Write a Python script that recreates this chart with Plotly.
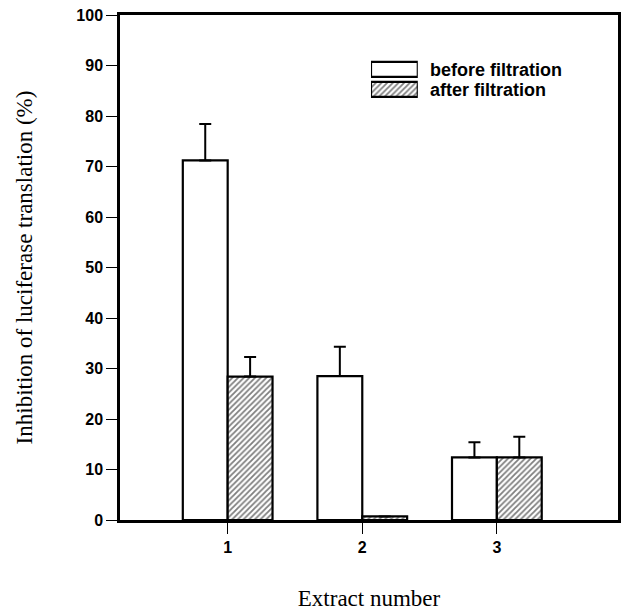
import plotly.graph_objects as go

extracts = [1, 2, 3]
tick_labels = ["1", "2", "3"]
before_vals = [71.2, 28.5, 12.4]
before_err = [7.2, 5.8, 3.0]
after_vals = [28.4, 0.7, 12.4]
after_err = [3.9, 0.0, 4.1]
legend_labels = ["before filtration", "after filtration"]

hatch = dict(shape="/", fgcolor="black", bgcolor="white", size=4, solidity=0.45)
outline = dict(color="black", width=2.2)

fig = go.Figure()
fig.add_trace(go.Bar(
    x=extracts, y=before_vals, name=legend_labels[0], showlegend=False,
    offset=-1/3, width=1/3,
    marker=dict(color="white", line=outline),
    error_y=dict(type="data", array=before_err, arrayminus=[0, 0, 0],
                 color="black", thickness=2, width=6),
))
fig.add_trace(go.Bar(
    x=extracts, y=after_vals, name=legend_labels[1], showlegend=False,
    offset=0, width=1/3,
    marker=dict(color="white", line=outline, pattern=hatch),
    error_y=dict(type="data", array=after_err, arrayminus=[0, 0, 0],
                 color="black", thickness=2, width=6),
))

# legend swatches (drawn on a small overlay axis pair)
fig.add_trace(go.Bar(x=[1], y=[1], orientation="h", width=0.75, base=0,
                     xaxis="x2", yaxis="y2", showlegend=False, hoverinfo="skip",
                     marker=dict(color="white", line=outline)))
fig.add_trace(go.Bar(x=[1], y=[0], orientation="h", width=0.75, base=0,
                     xaxis="x2", yaxis="y2", showlegend=False, hoverinfo="skip",
                     marker=dict(color="white", line=outline, pattern=hatch)))

legfont = dict(family="Liberation Sans, Arial, sans-serif", size=18,
               color="black", weight="bold")
for lbl, yy in zip(legend_labels, [0.892, 0.852]):
    fig.add_annotation(text=lbl, x=0.618, y=yy, xref="paper", yref="paper",
                       xanchor="left", yanchor="middle", showarrow=False,
                       font=legfont)

tickfont = dict(family="Liberation Sans, Arial, sans-serif", size=16,
                color="black", weight="bold")
titlefont = dict(family="Liberation Serif, Times New Roman, serif", size=23,
                 color="black")
fig.update_layout(
    width=619, height=603,
    margin=dict(l=112, r=9, t=7, b=91),
    plot_bgcolor="white", paper_bgcolor="white",
    barmode="overlay",
    showlegend=False,
    xaxis=dict(range=[0.2, 3.9], tickvals=extracts, ticktext=tick_labels,
               ticks="outside", ticklen=11, tickwidth=1.2, tickcolor="black",
               showline=True, linecolor="black", linewidth=2.5, mirror=True,
               showgrid=False, zeroline=False, tickfont=tickfont, automargin=False,
               ticklabeloverflow="allow",
               title=dict(text="Extract number", standoff=36, font=titlefont)),
    yaxis=dict(range=[0, 100], tickvals=list(range(0, 101, 10)),
               ticks="outside", ticklen=11, tickwidth=1.2, tickcolor="black",
               showline=True, linecolor="black", linewidth=2.5, mirror=True,
               showgrid=False, zeroline=False, tickfont=tickfont, automargin=False,
               ticklabeloverflow="allow",
               title=dict(text="Inhibition of luciferase translation (%)",
                          standoff=38, font=titlefont)),
    xaxis2=dict(domain=[0.504, 0.598], range=[0, 1], anchor="y2",
                visible=False, fixedrange=True),
    yaxis2=dict(domain=[0.833, 0.912], range=[-0.5, 1.5], anchor="x2",
                visible=False, fixedrange=True),
)
fig.write_html("out.html")
